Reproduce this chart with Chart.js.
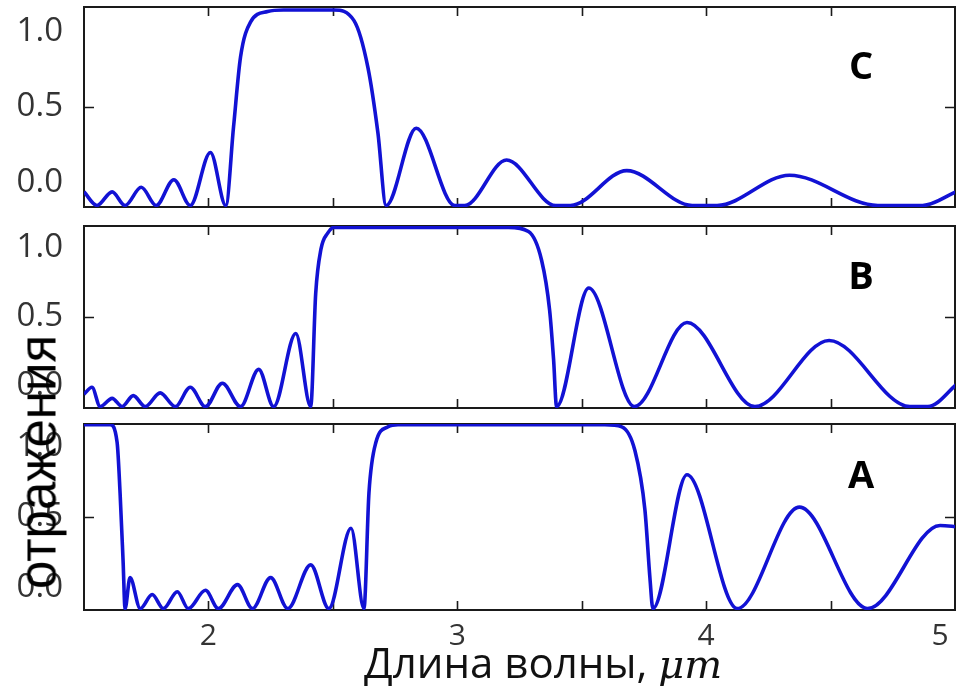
<!DOCTYPE html>
<html><head><meta charset="utf-8">
<script src="https://cdn.jsdelivr.net/npm/chart.js@4.4.1/dist/chart.umd.min.js"></script>
<style>
html,body{margin:0;padding:0;background:#fff;}
#wrap{position:relative;width:961px;height:692px;overflow:hidden;background:#fff;}
canvas{position:absolute;left:0;}
#ytitle{position:absolute;left:38px;top:462px;transform:translate(-50%,-50%) rotate(-90deg);font:51px "Liberation Sans",Arial,sans-serif;color:#000;white-space:nowrap;z-index:5;line-height:1;}
#xtitle{position:absolute;left:364px;top:637px;font:42px "Open Sans",sans-serif;color:#111;white-space:nowrap;line-height:1.2;}
#xtitle i{font-family:"DejaVu Serif","Liberation Serif",serif;font-size:40px;}
</style></head><body>
<div id="wrap">
<canvas id="cC" width="961" height="216" style="top:0"></canvas>
<canvas id="cB" width="961" height="200" style="top:216px"></canvas>
<canvas id="cA" width="961" height="276" style="top:416px"></canvas>
<div id="ytitle">отражения</div>
<div id="xtitle">Длина волны, <i>μm</i></div>
</div>
<script>
// ---- data ----
const wavelengthC = [1.500,1.552,1.613,1.665,1.730,1.790,1.861,1.927,2.008,2.070,2.101,2.129,2.169,2.238,2.302,2.504,2.585,2.641,2.681,2.714,2.835,2.990,3.030,3.198,3.395,3.455,3.681,3.944,4.044,4.335,4.690,4.870,5.004];
const reflectC    = [-0.06,-0.15,-0.06,-0.15,-0.03,-0.15,0.02,-0.15,0.20,-0.15,0.37,0.83,1.06,1.13,1.14,1.14,1.07,0.76,0.33,-0.15,0.36,-0.15,-0.15,0.15,-0.15,-0.15,0.08,-0.15,-0.15,0.05,-0.15,-0.15,-0.06];

const wavelengthB = [1.500,1.532,1.565,1.613,1.653,1.698,1.746,1.806,1.867,1.927,1.988,2.056,2.129,2.202,2.262,2.351,2.411,2.431,2.452,2.480,2.504,3.206,3.286,3.339,3.371,3.387,3.399,3.528,3.712,3.923,4.196,4.494,4.819,4.891,5.012];
const reflectB    = [-0.06,-0.01,-0.15,-0.09,-0.15,-0.07,-0.15,-0.05,-0.15,-0.01,-0.15,0.02,-0.15,0.12,-0.15,0.38,-0.15,0.67,0.99,1.11,1.15,1.15,1.12,0.91,0.55,0.19,-0.15,0.71,-0.15,0.46,-0.15,0.33,-0.15,-0.15,0.02];

const wavelengthA = [1.500,1.605,1.633,1.645,1.657,1.665,1.685,1.726,1.774,1.819,1.875,1.919,1.988,2.040,2.117,2.177,2.250,2.319,2.411,2.484,2.573,2.625,2.645,2.673,2.722,2.762,3.593,3.661,3.714,3.754,3.774,3.786,3.923,4.125,4.375,4.649,4.940,5.012];
const reflectA    = [1.155,1.155,1.03,0.67,0.19,-0.15,0.07,-0.15,-0.05,-0.15,-0.03,-0.15,-0.02,-0.15,0.02,-0.15,0.07,-0.15,0.16,-0.15,0.42,-0.15,0.67,1.03,1.14,1.155,1.155,1.14,0.97,0.55,0.07,-0.15,0.80,-0.15,0.57,-0.15,0.44,0.43];

const yTickValues = [0, 0.5, 1.0];
const yTickLabels = ['0.0', '0.5', '1.0'];
const xTickValues = [2, 3, 4, 5];
const xTickLabels = ['2', '3', '4', '5\u2003'];
const xMarkValues = [2, 2.5, 3, 3.5, 4, 4.5, 5];
const yMarkValues = [0.5];
const panelLetters = ['C', 'B', 'A'];

const LINE = '#1212d4';

const framePlugin = {
  id: 'panelFrame',
  beforeDatasetsDraw(chart, args, opts) {
    const {ctx, chartArea: a, scales: {x, y}} = chart;
    ctx.save();
    ctx.strokeStyle = '#1a1a1a';
    ctx.lineWidth = 2;
    ctx.strokeRect(a.left, a.top, a.right - a.left, a.bottom - a.top);
    ctx.lineWidth = 1.6;
    ctx.beginPath();
    for (const v of xMarkValues) {
      const px = Math.round(x.getPixelForValue(v)) + 0.5;
      if (px <= a.left + 2 || px >= a.right - 2) continue;
      ctx.moveTo(px, a.top); ctx.lineTo(px, a.top + 9);
      ctx.moveTo(px, a.bottom); ctx.lineTo(px, a.bottom - 9);
    }
    for (const v of yMarkValues) {
      const py = Math.round(y.getPixelForValue(v)) + 0.5;
      ctx.moveTo(a.left, py); ctx.lineTo(a.left + 10, py);
      ctx.moveTo(a.right, py); ctx.lineTo(a.right - 10, py);
    }
    ctx.stroke();
    ctx.restore();
  },
  afterDatasetsDraw(chart, args, opts) {
    const ctx = chart.ctx;
    ctx.save();
    ctx.fillStyle = '#000';
    ctx.font = 'bold 38px "Open Sans", sans-serif';
    ctx.textAlign = 'center';
    ctx.textBaseline = 'middle';
    ctx.fillText(opts.letter, opts.lx, opts.ly);
    ctx.restore();
  }
};

function makePanel(id, xs, ys, letter, pad, showX) {
  const data = xs.map((x, i) => ({x: x, y: ys[i]}));
  return new Chart(document.getElementById(id), {
    type: 'line',
    data: {datasets: [{data: data, borderColor: LINE, borderWidth: 3.6, pointRadius: 0,
      cubicInterpolationMode: 'monotone', fill: false}]},
    options: {
      responsive: false, animation: false, devicePixelRatio: 1,
      layout: {padding: {left: 0, right: 6, top: pad.top, bottom: pad.bottom}},
      plugins: {legend: {display: false}, tooltip: {enabled: false},
        panelFrame: {letter: letter, lx: 861, ly: pad.ly}},
      scales: {
        x: {type: 'linear', min: 1.5, max: 5.0, display: showX,
          grid: {display: false, drawTicks: false}, border: {display: false},
          afterBuildTicks: s => { s.ticks = xTickValues.map(v => ({value: v})); },
          ticks: {callback: v => { const i = xTickValues.indexOf(v); return i >= 0 ? xTickLabels[i] : ''; },
            font: {family: '"Open Sans"', size: 30}, color: '#333', padding: 8, maxRotation: 0, autoSkip: false},
          afterFit: s => { s.paddingLeft = 0; s.paddingRight = 0; if (showX) s.height = pad.axisH; }
        },
        y: {type: 'linear', min: -0.16, max: 1.16, position: 'left',
          grid: {display: false, drawTicks: false}, border: {display: false},
          afterBuildTicks: s => { s.ticks = yTickValues.map(v => ({value: v})); },
          ticks: {callback: v => { const i = yTickValues.indexOf(v); return i >= 0 ? yTickLabels[i] : ''; },
            font: {family: '"Open Sans"', size: 33}, color: '#333', padding: 21, autoSkip: false},
          afterFit: s => { s.width = 84; s.paddingTop = 0; s.paddingBottom = 0; }
        }
      }
    },
    plugins: [framePlugin]
  });
}

makePanel('cC', wavelengthC, reflectC, panelLetters[0], {top: 7, bottom: 9, ly: 68}, false);
makePanel('cB', wavelengthB, reflectB, panelLetters[1], {top: 10, bottom: 8, ly: 62}, false);
makePanel('cA', wavelengthA, reflectA, panelLetters[2], {top: 8, bottom: 0, ly: 61, axisH: 82}, true);
</script>
</body></html>
